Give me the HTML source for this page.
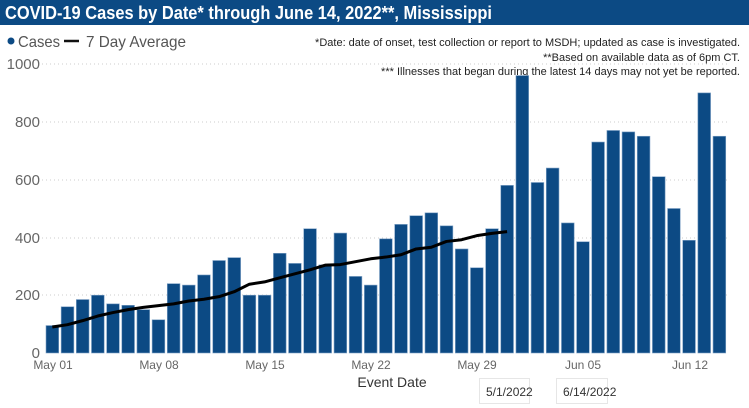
<!DOCTYPE html>
<html><head><meta charset="utf-8"><style>
html,body{margin:0;padding:0;background:#fff;width:749px;height:408px;overflow:hidden;font-family:"Liberation Sans",sans-serif}
</style></head><body>
<svg id="s" width="749" height="408" xmlns="http://www.w3.org/2000/svg" font-family="Liberation Sans, sans-serif">
<rect x="0" y="0" width="749" height="25" fill="#0c4a84"/>
<text x="5" y="19" font-size="18" fill="#fff" font-weight="bold" textLength="487" lengthAdjust="spacingAndGlyphs">COVID-19 Cases by Date* through June 14, 2022**, Mississippi</text>
<circle cx="11" cy="41" r="3.5" fill="#0c4a84"/>
<text x="18" y="47" font-size="16" fill="#555" textLength="42" lengthAdjust="spacingAndGlyphs">Cases</text>
<line x1="64" y1="41" x2="79" y2="41" stroke="#111" stroke-width="2.5"/>
<text x="86" y="47" font-size="16" fill="#555" textLength="100" lengthAdjust="spacingAndGlyphs">7 Day Average</text>
<g font-size="11" fill="#222" text-anchor="end">
<text x="740" y="46">*Date: date of onset, test collection or report to MSDH; updated as case is investigated.</text>
<text x="740" y="61">**Based on available data as of 6pm CT.</text>
<text x="740" y="75">*** Illnesses that began during the latest 14 days may not yet be reported.</text>
</g>
<g stroke="#ccc" stroke-dasharray="1,3" stroke-width="1">
<line x1="42" x2="730" y1="64" y2="64"/><line x1="42" x2="730" y1="122" y2="122"/><line x1="42" x2="730" y1="180" y2="180"/><line x1="42" x2="730" y1="238" y2="238"/><line x1="42" x2="730" y1="295" y2="295"/>
</g>
<g font-size="15" fill="#666" text-anchor="end">
<text x="40" y="69">1000</text><text x="40" y="127">800</text><text x="40" y="185">600</text><text x="40" y="243">400</text><text x="40" y="300">200</text><text x="40" y="358">0</text>
</g>
<g id="bars" fill="#0c4a84" stroke="#7fa2c6" stroke-width="0.6"></g>
<polyline id="avg" fill="none" stroke="#000" stroke-width="3" stroke-linejoin="round"/>
<g font-size="12" fill="#666" text-anchor="middle">
<text x="53" y="369">May 01</text><text x="159" y="369">May 08</text><text x="265" y="369">May 15</text><text x="371" y="369">May 22</text><text x="477" y="369">May 29</text><text x="583" y="369">Jun 05</text><text x="690" y="369">Jun 12</text>
</g>
<text x="392" y="387" font-size="14" fill="#333" text-anchor="middle">Event Date</text>
<rect x="479.5" y="378.5" width="50" height="25" fill="#fff" stroke="#e6e6e6"/>
<rect x="556.5" y="378.5" width="51" height="25" fill="#fff" stroke="#e6e6e6"/>
<text x="486" y="396" font-size="12" fill="#333">5/1/2022</text>
<text x="563" y="396" font-size="12" fill="#333">6/14/2022</text>
</svg>
<script>
var v=[95,160,185,200,170,165,150,115,240,235,270,320,330,200,200,345,310,430,305,415,265,235,395,445,475,485,440,360,295,430,580,960,590,640,450,385,730,770,765,750,610,500,390,900,750];
var a=[90,98,112,128,140,150,158,164,170,180,186,195,212,238,246,260,274,288,304,306,316,326,332,340,360,366,386,392,406,414,420];
var g=document.getElementById('bars'),ns='http://www.w3.org/2000/svg',p=15.16,y0=353,k=0.289,pts=[];
v.forEach(function(d,i){var r=document.createElementNS(ns,'rect');var h=d*k;r.setAttribute('x',46+i*p);r.setAttribute('y',y0-h);r.setAttribute('width',12.7);r.setAttribute('height',h);g.appendChild(r);});
a.forEach(function(d,i){pts.push((52.3+i*p)+','+(y0-d*k));});
document.getElementById('avg').setAttribute('points',pts.join(' '));
</script>
</body></html>
